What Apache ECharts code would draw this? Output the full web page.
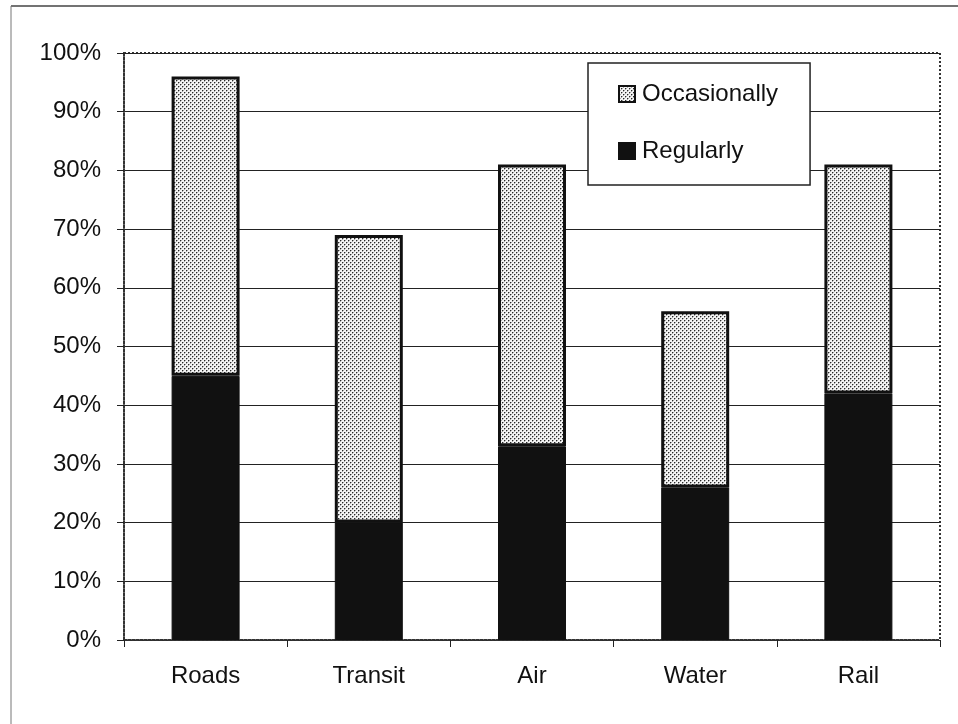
<!DOCTYPE html>
<html>
<head>
<meta charset="utf-8">
<script src="https://cdn.jsdelivr.net/npm/echarts@6/dist/echarts.min.js"></script>
<style>
  html, body { margin: 0; padding: 0; background: #fff; }
  #chart { width: 958px; height: 724px; }
</style>
</head>
<body>
<div id="chart"></div>
<script>
// Share of respondents by transport mode
const categories = ['Roads', 'Transit', 'Air', 'Water', 'Rail'];
const regularly = [45, 20, 33, 26, 42];
const occasionally = [51, 49, 48, 30, 39];
const yTicks = [0, 10, 20, 30, 40, 50, 60, 70, 80, 90, 100];

const FONT = "'Liberation Sans', Arial, sans-serif";

// Stippled fill: light background with a staggered grid of soft dark dots
function makeStipple() {
  const c = document.createElement('canvas');
  c.width = 4; c.height = 4;
  const g = c.getContext('2d');
  g.fillStyle = '#f4f4f4';
  g.fillRect(0, 0, 4, 4);
  const dot = (x, y) => {
    g.fillStyle = '#a8a8a8';
    g.fillRect(x + 1, y, 1, 1);
    g.fillRect(x, y + 1, 1, 1);
    g.fillStyle = '#2a2a2a';
    g.fillRect(x, y, 1, 1);
  };
  dot(0, 0);
  dot(2, 2);
  return c;
}
const stipple = makeStipple();

const chart = echarts.init(document.getElementById('chart'), null, { renderer: 'canvas' });

chart.setOption({
  animation: false,
  backgroundColor: '#ffffff',
  textStyle: { fontFamily: FONT },
  grid: {
    left: 124, right: 18, top: 53, bottom: 84,
    show: true,
    borderColor: '#333',
    borderWidth: 2,
    borderType: 'dotted'
  },
  legend: {
    data: ['Occasionally', 'Regularly'],
    orient: 'vertical',
    left: 588, top: 63,
    padding: [19, 32, 22, 30],
    itemGap: 33,
    itemWidth: 16,
    itemHeight: 16,
    icon: 'rect',
    backgroundColor: '#fff',
    borderColor: '#222',
    borderWidth: 1.5,
    textStyle: { fontFamily: FONT, fontSize: 24, color: '#111', padding: [0, 0, 0, 2] }
  },
  xAxis: {
    type: 'category',
    data: categories,
    axisLine: { show: true, lineStyle: { color: '#333', width: 2, type: 'dotted' } },
    axisTick: { show: true, length: 7, lineStyle: { color: '#222', width: 1 } },
    axisLabel: { fontSize: 24, color: '#111', margin: 24, fontFamily: FONT },
    splitLine: { show: false }
  },
  yAxis: {
    type: 'value',
    min: yTicks[0],
    max: yTicks[yTicks.length - 1],
    interval: 10,
    axisLine: { show: true, lineStyle: { color: '#333', width: 2, type: 'dotted' } },
    axisTick: { show: true, length: 7, lineStyle: { color: '#222', width: 1 } },
    axisLabel: { fontSize: 24, color: '#111', margin: 23, fontFamily: FONT,
                 formatter: v => v + '%' },
    splitLine: { show: true, lineStyle: { color: '#222', width: 1 } }
  },
  series: [
    {
      name: 'Regularly',
      type: 'bar',
      stack: 'total',
      barWidth: 68,
      data: regularly,
      itemStyle: { color: '#111', borderColor: '#111', borderWidth: 1 }
    },
    {
      name: 'Occasionally',
      type: 'bar',
      stack: 'total',
      barWidth: 68,
      data: occasionally,
      itemStyle: { color: { image: stipple, repeat: 'repeat' }, borderColor: '#111', borderWidth: 3 }
    }
  ],
  graphic: [
    // outer frame (top and left edges)
    { type: 'line', shape: { x1: 11, y1: 6, x2: 958, y2: 6 }, style: { stroke: '#444', lineWidth: 1.5 } },
    { type: 'line', shape: { x1: 11, y1: 6, x2: 11, y2: 724 }, style: { stroke: '#777', lineWidth: 1 } }
  ]
});
</script>
</body>
</html>
